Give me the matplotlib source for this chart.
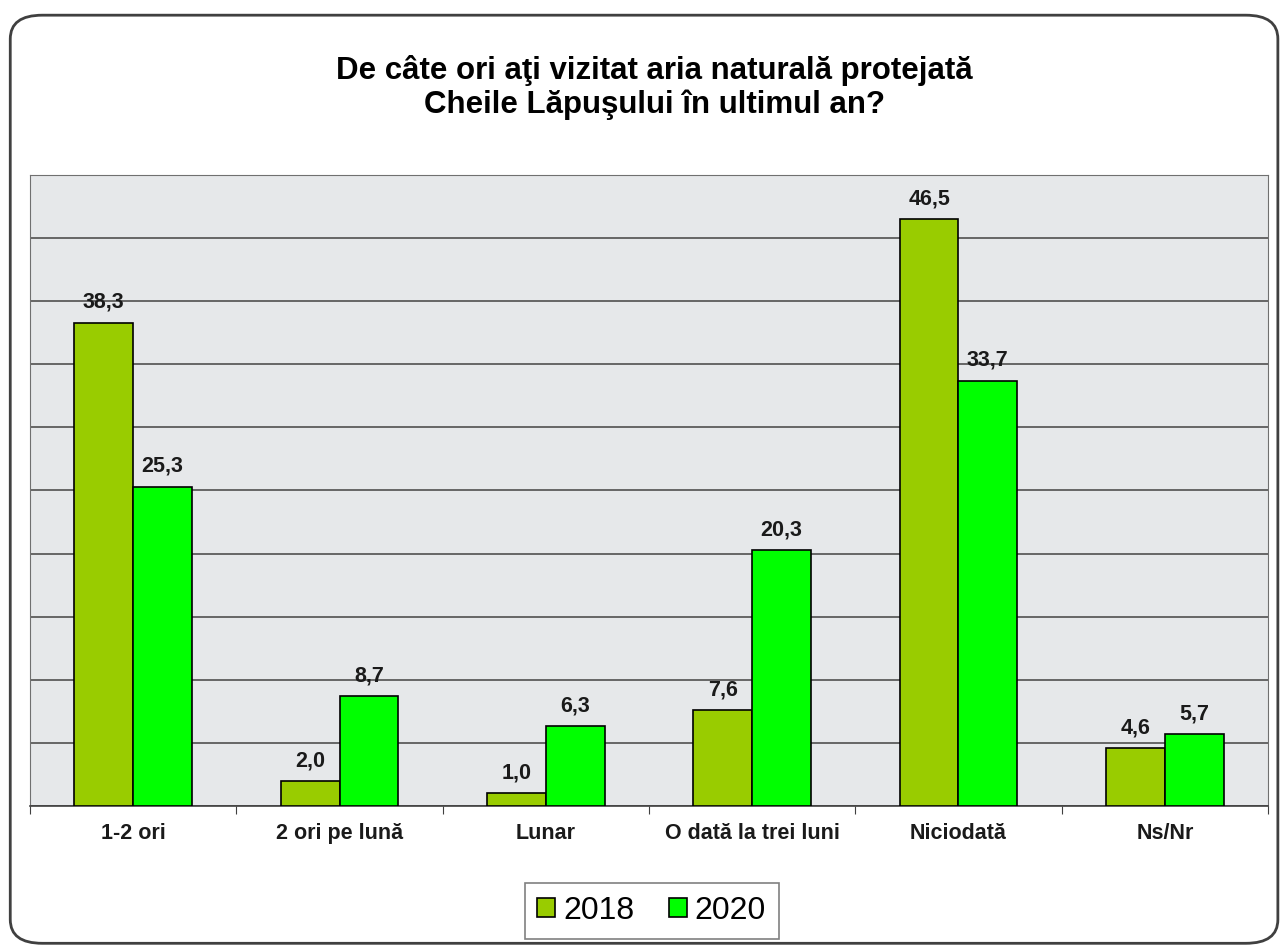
import numpy as np
import matplotlib
matplotlib.use("Agg")
import matplotlib.pyplot as plt
from matplotlib.patches import FancyBboxPatch

categories = ['1-2 ori', '2 ori pe lună', 'Lunar', 'O dată la trei luni', 'Niciodată', 'Ns/Nr']
values_2018 = [38.3, 2.0, 1.0, 7.6, 46.5, 4.6]
values_2020 = [25.3, 8.7, 6.3, 20.3, 33.7, 5.7]
series_names = ['2018', '2020']

plt.rcParams['font.family'] = ['Liberation Sans', 'DejaVu Sans']

fig = plt.figure(figsize=(12.83, 9.49), dpi=100)

# rounded frame around the whole chart
frame = FancyBboxPatch((0.008, 0.006), 0.988, 0.978, boxstyle="round,pad=0,rounding_size=0.025",
                       transform=fig.transFigure, facecolor='white', edgecolor='#404040',
                       linewidth=2, zorder=-10)
fig.patches.append(frame)

ax = fig.add_axes([0.0234, 0.1507, 0.9649, 0.665])
ax.set_facecolor('#e6e8ea')

x = np.arange(len(categories))
w = 0.285
b1 = ax.bar(x - w / 2, values_2018, w, color='#99cc00', edgecolor='black', linewidth=1.2,
            label=series_names[0], zorder=3)
b2 = ax.bar(x + w / 2, values_2020, w, color='#00ff00', edgecolor='black', linewidth=1.2,
            label=series_names[1], zorder=3)

for bars in (b1, b2):
    for r in bars:
        v = r.get_height()
        ax.annotate(('%.1f' % v).replace('.', ','), (r.get_x() + r.get_width() / 2, v),
                    xytext=(0, 7), textcoords='offset points', ha='center', va='bottom',
                    fontsize=15.5, fontweight='bold', color='#1a1a1a', zorder=4)

ax.set_xlim(-0.5, len(categories) - 0.5)
ax.set_ylim(0, 50)
ax.set_yticks(np.arange(0, 51, 5))
ax.set_yticklabels([])
ax.tick_params(axis='y', length=0)
ax.grid(axis='y', color='#505050', linewidth=1.2, zorder=1)

ax.set_xticks(np.arange(-0.5, len(categories), 1))
ax.set_xticklabels([])
ax.set_xticks(x, minor=True)
ax.set_xticklabels(categories, minor=True, fontsize=15.5, fontweight='bold', color='#1a1a1a')
ax.tick_params(axis='x', which='major', length=6, direction='out', color='#404040')
ax.tick_params(axis='x', which='minor', length=0, pad=12)

for s in ['left', 'right', 'top']:
    ax.spines[s].set_color('#707070')
ax.spines['bottom'].set_color('#404040')
ax.spines['bottom'].set_linewidth(1.2)

fig.text(0.51, 0.908, 'De câte ori aţi vizitat aria naturală protejată\nCheile Lăpuşului în ultimul an?',
         ha='center', va='center', fontsize=22.5, fontweight='bold', linespacing=1.15)

leg = fig.legend(loc='center', bbox_to_anchor=(0.508, 0.040), ncol=2, fontsize=23,
                 frameon=True, fancybox=False, edgecolor='#606060', handlelength=0.55,
                 handleheight=0.55, handletextpad=0.25, columnspacing=1.1, borderpad=0.4,
                 borderaxespad=0)
leg.get_frame().set_linewidth(1.2)

fig.savefig('out.png', dpi=100)
